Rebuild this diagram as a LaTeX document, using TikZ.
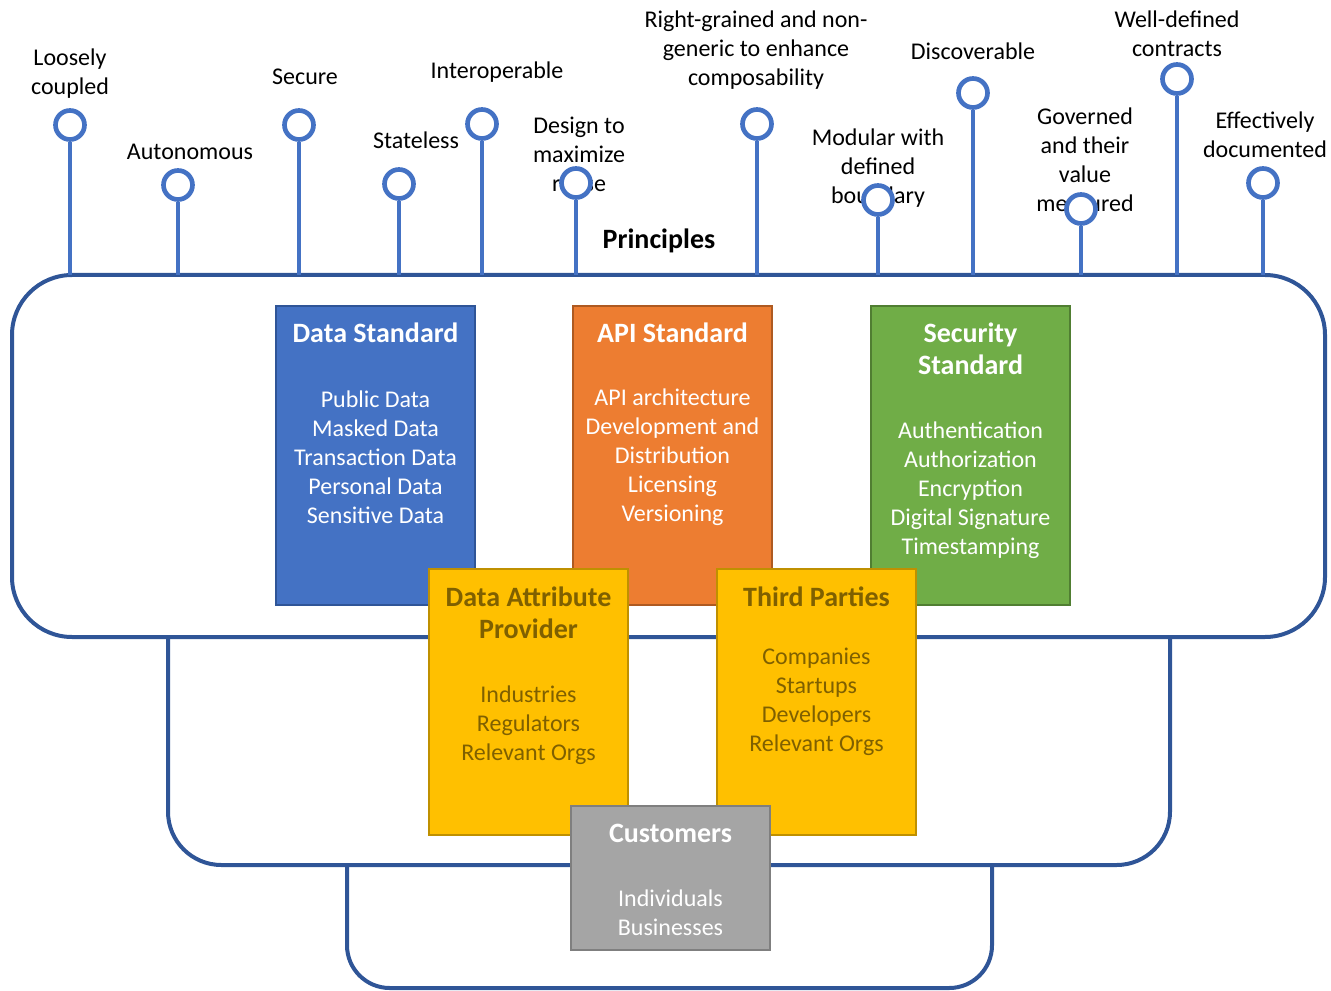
\documentclass[tikz,border=0pt]{standalone}
\usepackage{fontspec}
\setmainfont{Carlito}

\definecolor{frameblue}{HTML}{2F5597}
\definecolor{pinblue}{HTML}{4472C4}
\definecolor{dsblue}{HTML}{4472C4}
\definecolor{dsedge}{HTML}{2F5597}
\definecolor{apiorange}{HTML}{ED7D31}
\definecolor{apiedge}{HTML}{AE5A21}
\definecolor{secgreen}{HTML}{70AD47}
\definecolor{secedge}{HTML}{507E32}
\definecolor{partyyellow}{HTML}{FFC000}
\definecolor{partyedge}{HTML}{BF9000}
\definecolor{partytext}{HTML}{7F6000}
\definecolor{custgrey}{HTML}{A5A5A5}
\definecolor{custedge}{HTML}{7F7F7F}

\newcommand{\labelfont}{\fontsize{18}{21.75}\selectfont}
\newcommand{\headfont}{\fontsize{21}{24}\selectfont\bfseries}

\begin{document}
\begin{tikzpicture}[x=0.75pt, y=-0.75pt,
  frame/.style={line width=3pt, draw=frameblue},
  pin/.style={line width=3.5pt, draw=pinblue},
  pinhead/.style={circle, draw=pinblue, line width=3.5pt, fill=white,
    minimum size=21.75pt, inner sep=0pt},
  pinlabel/.style={align=center, font=\labelfont, inner sep=0pt},
  stdbox/.style={rectangle, line width=1.5pt, minimum width=149.25pt,
    minimum height=224.25pt, inner sep=0pt},
  partybox/.style={rectangle, line width=1.5pt, fill=partyyellow, draw=partyedge,
    minimum width=149.25pt, minimum height=199.5pt, inner sep=0pt},
  boxtitle/.style={align=center, font=\headfont, inner sep=0pt},
  boxitem/.style={align=center, font=\labelfont, inner sep=0pt}]

  % Fix the canvas to the size of the picture
  \useasboundingbox (0,0) rectangle (1331,991);

  % Outer bracket holding the standards
  \draw[frame, rounded corners=45pt] (12,275) rectangle (1325,637);

  % Second and third brackets hanging below
  \draw[frame, rounded corners=40pt] (168,637) -- (168,865) -- (1170,865) -- (1170,637);
  \draw[frame, rounded corners=32pt] (347,865) -- (347,988) -- (992,988) -- (992,865);

  % Principle labels (drawn first so the pin heads sit on top)
  \node[pinlabel] (l1) at (70,74) {Loosely\\coupled};
  \node[pinlabel] (l2) at (190,152) {Autonomous};
  \node[pinlabel] (l3) at (305,77) {Secure};
  \node[pinlabel] (l4) at (416,140) {Stateless};
  \node[pinlabel] (l5) at (497,72) {Interoperable};
  \node[pinlabel] (l6) at (579,154) {Design to\\maximize\\reuse};
  \node[pinlabel] (l7) at (756,50) {Right-grained and non-\\generic to enhance\\composability};
  \node[pinlabel] (l8) at (878,168) {Modular with\\defined\\boundary};
  \node[pinlabel] (l9) at (973,51) {Discoverable};
  \node[pinlabel] (l10) at (1085,160) {Governed\\and their\\value\\measured};
  \node[pinlabel] (l11) at (1177,33.5) {Well-defined\\contracts};
  \node[pinlabel] (l12) at (1265,134.5) {Effectively\\documented};

  % Pin feet on the top line of the bracket
  \coordinate (p1) at (70,275);
  \coordinate (p2) at (178,275);
  \coordinate (p3) at (299,275);
  \coordinate (p4) at (399,275);
  \coordinate (p5) at (482,275);
  \coordinate (p6) at (576,275);
  \coordinate (p7) at (757,275);
  \coordinate (p8) at (878,275);
  \coordinate (p9) at (973,275);
  \coordinate (p10) at (1081,275);
  \coordinate (p11) at (1177,275);
  \coordinate (p12) at (1263,275);

  % Pin heads
  \node[pinhead] (h1) at (70,125) {};
  \node[pinhead] (h2) at (178,185) {};
  \node[pinhead] (h3) at (299,125) {};
  \node[pinhead] (h4) at (399,184) {};
  \node[pinhead] (h5) at (482,124) {};
  \node[pinhead] (h6) at (576,183) {};
  \node[pinhead] (h7) at (757,124) {};
  \node[pinhead] (h8) at (878,200) {};
  \node[pinhead] (h9) at (973,93) {};
  \node[pinhead] (h10) at (1081,209) {};
  \node[pinhead] (h11) at (1177,79) {};
  \node[pinhead] (h12) at (1263,183) {};

  % Pin stems
  \draw[pin] (p1) -- (h1);
  \draw[pin] (p2) -- (h2);
  \draw[pin] (p3) -- (h3);
  \draw[pin] (p4) -- (h4);
  \draw[pin] (p5) -- (h5);
  \draw[pin] (p6) -- (h6);
  \draw[pin] (p7) -- (h7);
  \draw[pin] (p8) -- (h8);
  \draw[pin] (p9) -- (h9);
  \draw[pin] (p10) -- (h10);
  \draw[pin] (p11) -- (h11);
  \draw[pin] (p12) -- (h12);

  \node[boxtitle] (principles) at (659,241) {Principles};

  % The three standards
  \node[stdbox, fill=dsblue, draw=dsedge] (data) at (375.5,455.5) {};
  \node[boxtitle, white] (datatitle) at (375.5,333) {Data Standard};
  \node[boxitem, white] (dataitems) at (375.5,457.5)
    {Public Data\\Masked Data\\Transaction Data\\Personal Data\\Sensitive Data};

  \node[stdbox, fill=apiorange, draw=apiedge] (api) at (672.5,455.5) {};
  \node[boxtitle, white] (apititle) at (672.5,333) {API Standard};
  \node[boxitem, white] (apiitems) at (672.5,457.5)
    {API architecture\\Development and\\Distribution\\Licensing\\Versioning};

  \node[stdbox, fill=secgreen, draw=secedge] (sec) at (970.5,455.5) {};
  \node[boxtitle, white] (sectitle) at (970.5,349) {Security\\Standard};
  \node[boxitem, white] (secitems) at (970.5,490)
    {Authentication\\Authorization\\Encryption\\Digital Signature\\Timestamping};

  % Providers and third parties
  \node[partybox] (provider) at (528.5,702) {};
  \node[boxtitle, partytext] (providertitle) at (528.5,613) {Data Attribute\\Provider};
  \node[boxitem, partytext] (provideritems) at (528.5,725)
    {Industries\\Regulators\\Relevant Orgs};

  \node[partybox] (third) at (816.5,702) {};
  \node[boxtitle, partytext] (thirdtitle) at (816.5,597) {Third Parties};
  \node[boxitem, partytext] (thirditems) at (816.5,702)
    {Companies\\Startups\\Developers\\Relevant Orgs};

  % Customers
  \node[rectangle, line width=1.5pt, fill=custgrey, draw=custedge,
    minimum width=149.25pt, minimum height=108pt, inner sep=0pt] (cust) at (670.5,878) {};
  \node[boxtitle, white] (custtitle) at (670.5,833) {Customers};
  \node[boxitem, white] (custitems) at (670.5,912.5) {Individuals\\Businesses};

\end{tikzpicture}
\end{document}
